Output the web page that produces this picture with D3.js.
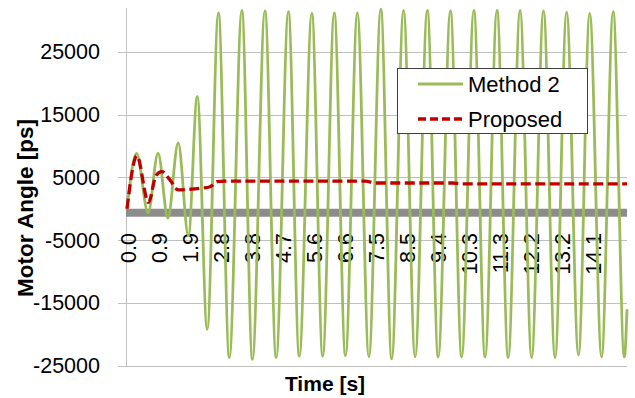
<!DOCTYPE html>
<html lang="en">
<head>
  <style>
    body { margin: 0; background: #fff; }
    text { font-family: "Liberation Sans", Arial, sans-serif; fill: #000; }
    .tick-label { font-size: 21.5px; }
    .axis-title { font-weight: bold; }
    .grid { stroke: #c0c0c0; stroke-width: 1px; }
  </style>
  <script src="https://d3js.org/d3.v7.min.js"></script>
</head>
<body>
  <script>
    // tick labels
    const timeTicks = [0, 0.94, 1.88, 2.82, 3.76, 4.7, 5.64, 6.58, 7.52, 8.46, 9.4, 10.34, 11.28, 12.22, 13.16, 14.1];
    const timeLabels = ["0.0", "0.9", "1.9", "2.8", "3.8", "4.7", "5.6", "6.6", "7.5", "8.5", "9.4", "10.3", "11.3", "12.2", "13.2", "14.1"];
    const angleTicks = [25000, 15000, 5000, -5000, -15000, -25000];

    // Method 2 (peaks and troughs)
    const method2Time = [0, 0.29, 0.64, 0.94, 1.24, 1.55, 1.86, 2.13, 2.43, 2.77, 3.10, 3.48, 3.80, 4.18, 4.52,
      4.89, 5.22, 5.60, 5.93, 6.28, 6.62, 6.98, 7.33, 7.69, 8.02, 8.38, 8.73, 9.10, 9.43, 9.80, 10.14,
      10.51, 10.85, 11.21, 11.55, 11.91, 12.26, 12.62, 12.97, 13.32, 13.68, 14.02, 14.38, 14.73, 15.07, 15.15];
    const method2Angle = [0, 8800, -650, 8850, -1500, 10500, -4300, 17900, -19200, 31200, -23700, 31600, -24000, 31500, -23700,
      31400, -23500, 31100, -23500, 31200, -23400, 31200, -23600, 31800, -23900, 31600, -23600, 31600, -23600, 31500, -23600,
      31600, -23600, 31600, -23700, 31600, -23700, 31500, -23700, 31300, -23300, 31100, -23600, 31400, -23600, -16000];

    // Proposed
    const proposedTime = [0, 0.30, 0.65, 0.88, 1.06, 1.30, 1.55, 1.91, 2.21, 2.52, 2.73, 2.97, 7.21, 7.55, 9.85, 10.15, 15.15];
    const proposedAngle = [0, 8400, 1000, 5300, 5900, 4600, 3000, 3100, 3250, 3500, 4300, 4400, 4400, 4100, 4100, 3950, 3950];

    const baseBand = -650;

    const W = 635, H = 398;
    const svg = d3.select("body").append("svg")
      .attr("width", W)
      .attr("height", H);

    const x = d3.scaleLinear().domain([0, 15.15]).range([127, 627]);
    const y = d3.scaleLinear().domain([-25000, 32000]).range([365.7, 7.8]);

    // horizontal gridlines + y labels
    svg.append("g")
      .selectAll("line")
      .data(angleTicks)
      .join("line")
      .attr("class", "grid")
      .attr("x1", x(0) - 9)
      .attr("x2", x.range()[1])
      .attr("y1", d => Math.round(y(d)) + 0.5)
      .attr("y2", d => Math.round(y(d)) + 0.5);

    svg.append("g")
      .selectAll("text")
      .data(angleTicks)
      .join("text")
      .attr("class", "tick-label")
      .attr("x", 100)
      .attr("y", d => y(d))
      .attr("dy", "0.35em")
      .attr("text-anchor", "end")
      .text(d => d);

    // vertical axis line
    svg.append("line")
      .attr("class", "grid")
      .attr("x1", Math.round(x(0)) - 0.5)
      .attr("x2", Math.round(x(0)) - 0.5)
      .attr("y1", y.range()[1])
      .attr("y2", y.range()[0] + 1);

    // thick grey horizontal axis band
    svg.append("line")
      .attr("x1", x(0) - 1)
      .attr("x2", x.range()[1])
      .attr("y1", y(baseBand))
      .attr("y2", y(baseBand))
      .attr("stroke", "#8c8c8c")
      .attr("stroke-width", 8);

    // x tick labels (rotated)
    svg.append("g")
      .selectAll("text")
      .data(timeTicks)
      .join("text")
      .attr("class", "tick-label")
      .attr("transform", d => `translate(${x(d) + 1},233) rotate(-90)`)
      .attr("dy", "0.35em")
      .attr("text-anchor", "end")
      .text((d, i) => timeLabels[i]);

    const line = d3.line()
      .x(d => x(d[0]))
      .y(d => y(d[1]))
      .curve(d3.curveMonotoneX);

    svg.append("path")
      .datum(d3.zip(method2Time, method2Angle))
      .attr("fill", "none")
      .attr("stroke", "#9bbb59")
      .attr("stroke-width", 2.8)
      .attr("stroke-linejoin", "round")
      .attr("d", line);

    svg.append("path")
      .datum(d3.zip(proposedTime, proposedAngle))
      .attr("fill", "none")
      .attr("stroke", "#c00000")
      .attr("stroke-width", 3.3)
      .attr("stroke-dasharray", "10,4.5")
      .attr("d", line);

    // axis titles
    svg.append("text")
      .attr("class", "axis-title")
      .attr("transform", "translate(25,208) rotate(-90)")
      .attr("dy", "0.35em")
      .attr("text-anchor", "middle")
      .style("font-size", "22.5px")
      .text("Motor Angle [ps]");

    svg.append("text")
      .attr("class", "axis-title")
      .attr("x", 325)
      .attr("y", 391)
      .attr("text-anchor", "middle")
      .style("font-size", "21px")
      .text("Time [s]");

    // legend
    const legend = svg.append("g").attr("transform", "translate(397,68)");
    legend.append("rect")
      .attr("x", 0.5).attr("y", 0.5)
      .attr("width", 190).attr("height", 65)
      .attr("fill", "#fff")
      .attr("stroke", "#404040")
      .attr("stroke-width", 1);

    const legendItems = [
      { name: "Method 2", color: "#9bbb59", dash: null, width: 2.8 },
      { name: "Proposed", color: "#c00000", dash: "8,4", width: 3.3 }
    ];
    legendItems.forEach((d, i) => {
      const cy = 16 + i * 35;
      legend.append("line")
        .attr("x1", 21).attr("x2", 66)
        .attr("y1", cy).attr("y2", cy)
        .attr("stroke", d.color)
        .attr("stroke-width", d.width)
        .attr("stroke-dasharray", d.dash);
      legend.append("text")
        .attr("x", 71)
        .attr("y", cy)
        .attr("dy", "0.35em")
        .style("font-size", "22px")
        .text(d.name);
    });
  </script>
</body>
</html>
